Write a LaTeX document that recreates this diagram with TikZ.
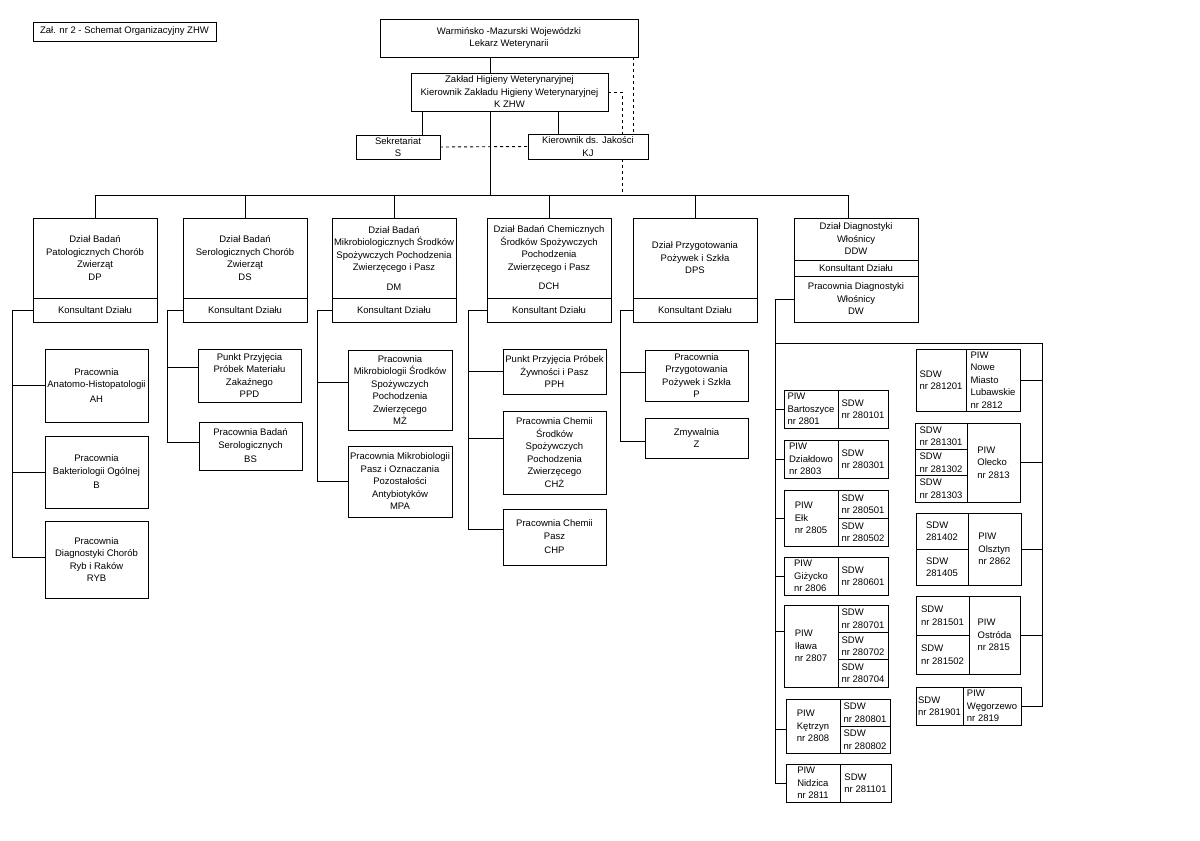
\documentclass[tikz,border=0pt]{standalone}
\usepackage{fontspec}
\setmainfont{Liberation Sans}
\usetikzlibrary{positioning,calc}
\newcommand{\orgfont}{\fontsize{9.5}{12.5}\selectfont}
\tikzset{
    block/.style = {draw, rectangle, anchor=north west, inner sep=0.5pt, outer sep=0pt,
        minimum width=124pt, align=center, font=\orgfont},
    sub/.style = {block, minimum width=103pt},
    cell/.style = {block, align=left},
    wire/.style = {draw, -},
    dwire/.style = {draw, dash pattern=on 3pt off 3pt}
}
\begin{document}
\begin{tikzpicture}[x=1pt, y=-1pt, line width=0.9pt]
        \useasboundingbox (0,0) rectangle (1200,841);
        \node [block, minimum width=183pt, minimum height=19pt] (title) at (33,22) {Zał. nr 2 - Schemat Organizacyjny ZHW};
        \node [block, minimum width=258pt, minimum height=38pt] (wm) at (380,19) {Warmińsko -Mazurski Wojewódzki\\Lekarz Weterynarii};
        \node [block, minimum width=197pt, minimum height=38pt] (zhw) at (411,73) {Zakład Higieny Weterynaryjnej\\Kierownik Zakładu Higieny Weterynaryjnej\\K ZHW};
        \node [block, minimum width=84pt, minimum height=24pt] (s) at (356,135) {Sekretariat\\S};
        \node [block, minimum width=120pt, minimum height=25pt] (kj) at (528,134) {Kierownik ds. Jakości\\KJ};
        \coordinate (trunk) at (490,195);
        \coordinate (sl) at (422,0);
        \coordinate (kl) at (558,0);
        \coordinate (qa) at (622,0);
        \coordinate (qb) at (633,0);
        \coordinate (dd) at (848,0);
        \draw [wire] (wm.south -| trunk) -- (zhw.north -| trunk);
        \draw [wire] (zhw.south -| trunk) -- (trunk);
        \draw [wire] (zhw.south -| sl) -- (s.north -| sl);
        \draw [wire] (zhw.south -| kl) -- (kj.north -| kl);
        \draw [dwire] (s.east) -- (kj.west);
        \draw [dwire] (zhw.east) -| (kj.north -| qa);
        \draw [dwire] (kj.south -| qa) -- (trunk -| qa);
        \draw [dwire] (wm.south -| qb) -- (kj.north -| qb);
        % departments
        \node [block, minimum height=80pt] (dp) at (33,218) {Dział Badań\\Patologicznych Chorób\\Zwierząt\\DP};
        \node [block, minimum height=80pt] (ds) at (183,218) {Dział Badań\\Serologicznych Chorób\\Zwierząt\\DS};
        \node [block, minimum height=80pt] (dm) at (332,218) {Dział Badań\\Mikrobiologicznych Środków\\Spożywczych Pochodzenia\\Zwierzęcego i Pasz\\[7pt]DM};
        \node [block, minimum height=80pt] (dch) at (487,218) {Dział Badań Chemicznych\\Środków Spożywczych\\Pochodzenia\\Zwierzęcego i Pasz\\[7pt]DCH};
        \node [block, minimum height=80pt] (dps) at (633,218) {Dział Przygotowania\\Pożywek i Szkła\\DPS};
        \foreach \d in {dp,ds,dm,dch,dps}{
            \node [block, minimum height=24pt, below=0pt of \d] (k\d) {Konsultant Działu};
        }
        \node [block, minimum height=42pt] (ddw) at (794,218) {Dział Diagnostyki\\Włośnicy\\DDW};
        \node [block, minimum height=16pt, below=0pt of ddw] (kddw) {Konsultant Działu};
        \node [block, minimum height=46pt, below=0pt of kddw] (dw) {Pracownia Diagnostyki\\Włośnicy\\DW};
        \foreach \d in {dp,ds,dm,dch,dps}{
            \draw [wire] (trunk) -| (\d.north);
        }
        \draw [wire] (trunk) -| (ddw.north -| dd);
        % laboratories
        \node [sub, minimum height=73pt] (ah) at (45,349) {Pracownia\\Anatomo-Histopatologii\\[2pt]AH};
        \node [sub, minimum height=72pt] (b) at (45,436) {Pracownia\\Bakteriologii Ogólnej\\[2pt]B};
        \node [sub, minimum height=77pt] (ryb) at (45,521) {Pracownia\\Diagnostyki Chorób\\Ryb i Raków\\RYB};
        \node [sub, minimum height=53pt] (ppd) at (198,349) {Punkt Przyjęcia\\Próbek Materiału\\Zakaźnego\\PPD};
        \node [sub, minimum height=48pt] (bs) at (199,422) {Pracownia Badań\\Serologicznych\\[2pt]BS};
        \node [sub, minimum width=104pt, minimum height=80pt] (mz) at (348,350) {Pracownia\\Mikrobiologii Środków\\Spożywczych\\Pochodzenia\\Zwierzęcego\\MŻ};
        \node [sub, minimum width=104pt, minimum height=71pt] (mpa) at (348,446) {Pracownia Mikrobiologii\\Pasz i Oznaczania\\Pozostałości\\Antybiotyków\\MPA};
        \node [sub, minimum height=45pt] (pph) at (503,349) {Punkt Przyjęcia Próbek\\Żywności i Pasz\\PPH};
        \node [sub, minimum height=83pt] (chz) at (503,411) {Pracownia Chemii\\Środków\\Spożywczych\\Pochodzenia\\Zwierzęcego\\CHŻ};
        \node [sub, minimum height=56pt] (chp) at (503,509) {Pracownia Chemii\\Pasz\\[2pt]CHP};
        \node [sub, minimum height=51pt] (p) at (645,350) {Pracownia\\Przygotowania\\Pożywek i Szkła\\P};
        \node [sub, minimum height=40pt] (z) at (645,418) {Zmywalnia\\Z};
        \foreach \d/\o/\last/\s in {dp/21/ryb/2pt, ds/16/bs/4pt, dm/15/mpa/0pt, dch/19/chp/8pt, dps/13/z/-3pt}{
            \draw [wire] (k\d.west) -- ++(-\o,0) coordinate (r\d) |- ([yshift=\s]\last.west);
        }
        \foreach \d/\c/\s in {dp/ah/0pt, dp/b/0pt, ds/ppd/8pt, dm/mz/8pt, dch/pph/0pt, dch/chz/14pt, dps/p/3pt}{
            \draw [wire] ([yshift=\s]\c.west) -| (r\d);
        }
        % PIW left column
        \node [cell, minimum width=54pt, minimum height=38pt] (bar) at (784,390) {PIW\\Bartoszyce\\nr 2801};
        \node [cell, minimum width=50pt, minimum height=38pt] (bar1) at (bar.north east) {SDW\\nr 280101};
        \node [cell, minimum width=54pt, minimum height=38pt] (dzi) at (784,440) {PIW\\Działdowo\\nr 2803};
        \node [cell, minimum width=50pt, minimum height=38pt] (dzi1) at (dzi.north east) {SDW\\nr 280301};
        \node [cell, minimum width=54pt, minimum height=56pt] (elk) at (784,490) {PIW\\Ełk\\nr 2805};
        \node [cell, minimum width=50pt, minimum height=28pt] (elk1) at (elk.north east) {SDW\\nr 280501};
        \node [cell, minimum width=50pt, minimum height=28pt] (elk2) at (elk1.south west) {SDW\\nr 280502};
        \node [cell, minimum width=54pt, minimum height=38pt] (giz) at (784,557) {PIW\\Giżycko\\nr 2806};
        \node [cell, minimum width=50pt, minimum height=38pt] (giz1) at (giz.north east) {SDW\\nr 280601};
        \node [cell, minimum width=54pt, minimum height=82pt] (ila) at (784,605) {PIW\\Iława\\nr 2807};
        \node [cell, minimum width=50pt, minimum height=27.33pt] (ila1) at (ila.north east) {SDW\\nr 280701};
        \node [cell, minimum width=50pt, minimum height=27.33pt] (ila2) at (ila1.south west) {SDW\\nr 280702};
        \node [cell, minimum width=50pt, minimum height=27.33pt] (ila3) at (ila2.south west) {SDW\\nr 280704};
        \node [cell, minimum width=54pt, minimum height=54pt] (ket) at (786,699) {PIW\\Kętrzyn\\nr 2808};
        \node [cell, minimum width=50pt, minimum height=27pt] (ket1) at (ket.north east) {SDW\\nr 280801};
        \node [cell, minimum width=50pt, minimum height=27pt] (ket2) at (ket1.south west) {SDW\\nr 280802};
        \node [cell, minimum width=54pt, minimum height=38pt] (nid) at (786,764) {PIW\\Nidzica\\nr 2811};
        \node [cell, minimum width=51pt, minimum height=38pt] (nid1) at (nid.north east) {SDW\\nr 281101};
        % PIW right column
        \node [cell, minimum width=50pt, minimum height=62pt] (now1) at (916,349) {SDW\\nr 281201};
        \node [cell, minimum width=54pt, minimum height=62pt] (now) at (now1.north east) {PIW\\Nowe\\Miasto\\Lubawskie\\nr 2812};
        \node [cell, minimum width=52pt, minimum height=26.33pt] (ole1) at (915,423) {SDW\\nr 281301};
        \node [cell, minimum width=52pt, minimum height=26.33pt] (ole2) at (ole1.south west) {SDW\\nr 281302};
        \node [cell, minimum width=52pt, minimum height=26.33pt] (ole3) at (ole2.south west) {SDW\\nr 281303};
        \node [cell, minimum width=53pt, minimum height=79pt] (ole) at (ole1.north east) {PIW\\Olecko\\nr 2813};
        \node [cell, minimum width=52pt, minimum height=36pt] (ols1) at (916,513) {SDW\\281402};
        \node [cell, minimum width=52pt, minimum height=36pt] (ols2) at (ols1.south west) {SDW\\281405};
        \node [cell, minimum width=53pt, minimum height=72pt] (ols) at (ols1.north east) {PIW\\Olsztyn\\nr 2862};
        \node [cell, minimum width=53pt, minimum height=39pt] (ost1) at (916,596) {SDW\\nr 281501};
        \node [cell, minimum width=53pt, minimum height=39pt] (ost2) at (ost1.south west) {SDW\\nr 281502};
        \node [cell, minimum width=51pt, minimum height=78pt] (ost) at (ost1.north east) {PIW\\Ostróda\\nr 2815};
        \node [cell, minimum width=47pt, minimum height=38pt] (weg1) at (916,687) {SDW\\nr 281901};
        \node [cell, minimum width=58pt, minimum height=38pt] (weg) at (weg1.north east) {PIW\\Węgorzewo\\nr 2819};
        \coordinate (rr) at (1042,343);
        \draw [wire] (dw.west) -- ++(-19,0) coordinate (rddw) |- (nid.west);
        \draw [wire] (rddw |- rr) -- (rr) |- (weg.east);
        \foreach \c/\s in {bar/0pt, dzi/0pt, elk/0pt, giz/0pt, ila/15pt, ket/-3pt}{
            \draw [wire] ([yshift=\s]\c.west) -| (rddw);
        }
        \foreach \c in {now,ole,ols,ost}{
            \draw [wire] (\c.east) -| (rr);
        }
\end{tikzpicture}
\end{document}
